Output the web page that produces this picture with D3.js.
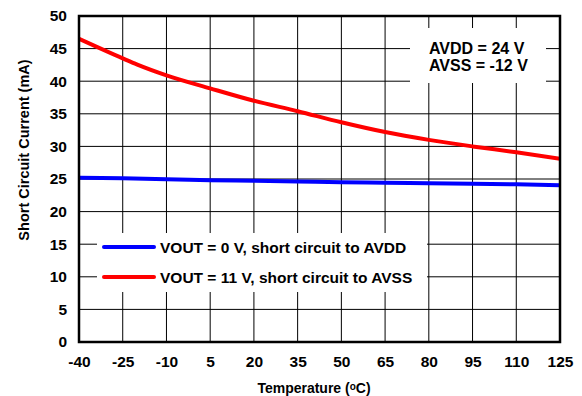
<!DOCTYPE html>
<html><head><meta charset="utf-8">
<script src="https://cdn.jsdelivr.net/npm/d3@7"></script>
<style>
html,body{margin:0;padding:0;background:#fff;}
svg text{font-family:"Liberation Sans",Arial,sans-serif;font-weight:bold;fill:#000;}
</style></head>
<body><svg id="c" width="582" height="396"></svg>
<script>
const xTicks = [-40,-25,-10,5,20,35,50,65,80,95,110,125];
const yTicks = [0,5,10,15,20,25,30,35,40,45,50];
const tempRed = [-40,-25,-20,-10,5,20,35,50,65,80,95,110,125];
const currentRed = [46.5,43.5,42.55,40.9,38.9,37.0,35.4,33.7,32.2,31.0,30.0,29.1,28.1];
const tempBlue = [-40,-25,-10,5,20,35,50,65,80,95,110,125];
const currentBlue = [25.2,25.1,24.97,24.82,24.72,24.62,24.52,24.42,24.35,24.28,24.18,24.05];
const seriesNames = ["VOUT = 0 V, short circuit to AVDD","VOUT = 11 V, short circuit to AVSS"];
const seriesColors = ["#0000ff","#ff0000"];
const noteLines = ["AVDD = 24 V","AVSS = -12 V"];

const L=79,R=560,T=16,B=342;
const svg=d3.select("#c");
const x=d3.scaleLinear().domain([-40,125]).range([L,R]);
const y=d3.scaleLinear().domain([0,50]).range([B,T]);

// grid
const g=svg.append("g");
g.selectAll("line.v").data(xTicks.slice(1,-1)).join("line")
 .attr("x1",d=>x(d)).attr("x2",d=>x(d)).attr("y1",T).attr("y2",B)
 .attr("stroke","#000").attr("stroke-width",1);
g.selectAll("line.h").data(yTicks.slice(1,-1)).join("line")
 .attr("x1",L).attr("x2",R).attr("y1",d=>y(d)).attr("y2",d=>y(d))
 .attr("stroke","#000").attr("stroke-width",1);

// white boxes for legend and note
svg.append("rect").attr("x",97).attr("y",233).attr("width",330).attr("height",59).attr("fill","#fff");
svg.append("rect").attr("x",410).attr("y",28).attr("width",136).attr("height",55).attr("fill","#fff");

const fmt=d=>String(d);
// axes labels
const xa=d3.axisBottom(x).tickValues(xTicks).tickFormat(fmt).tickSize(0).tickPadding(14);
svg.append("g").attr("transform",`translate(0,${B})`).call(xa)
 .call(s=>s.select(".domain").remove())
 .selectAll("text").attr("font-size",15.5).style("font-family","Liberation Sans, Arial, sans-serif").style("font-weight","bold");
const ya=d3.axisLeft(y).tickValues(yTicks).tickFormat(fmt).tickSize(0).tickPadding(12);
svg.append("g").attr("transform",`translate(${L},0)`).call(ya)
 .call(s=>s.select(".domain").remove())
 .selectAll("text").attr("font-size",15.5).style("font-family","Liberation Sans, Arial, sans-serif").style("font-weight","bold");

// lines
const line=d3.line().x(d=>x(d[0])).y(d=>y(d[1])).curve(d3.curveMonotoneX);
svg.append("clipPath").attr("id","cp").append("rect").attr("x",L).attr("y",T).attr("width",R-L).attr("height",B-T);
svg.append("path").datum(tempBlue.map((t,i)=>[t,currentBlue[i]])).attr("d",line)
 .attr("fill","none").attr("stroke",seriesColors[0]).attr("stroke-width",4).attr("clip-path","url(#cp)");
svg.append("path").datum(tempRed.map((t,i)=>[t,currentRed[i]])).attr("d",line)
 .attr("fill","none").attr("stroke",seriesColors[1]).attr("stroke-width",4).attr("clip-path","url(#cp)");

// frame
svg.append("rect").attr("x",L).attr("y",T).attr("width",R-L).attr("height",B-T)
 .attr("fill","none").attr("stroke","#000").attr("stroke-width",2.5);

// legend
const lg=svg.append("g");
seriesNames.forEach((n,i)=>{
  const yy=247+i*30;
  lg.append("line").attr("x1",104).attr("x2",154).attr("y1",yy).attr("y2",yy)
    .attr("stroke",seriesColors[i]).attr("stroke-width",4).attr("stroke-linecap","round");
  lg.append("text").attr("x",160).attr("y",yy+6).attr("font-size",15.5).text(n);
});

// note
noteLines.forEach((t,i)=>{
  svg.append("text").attr("x",429).attr("y",54+i*17).attr("font-size",16).text(t);
});

// axis titles
svg.append("text").attr("transform","translate(28.5,150) rotate(-90)").attr("text-anchor","middle")
 .attr("font-size",14.5).text("Short Circuit Current (mA)");
const xt=svg.append("text").attr("x",314).attr("y",393).attr("text-anchor","middle").attr("font-size",14);
xt.append("tspan").text("Temperature (");
xt.append("tspan").attr("font-size",10).attr("dy",-3).text("o");
xt.append("tspan").attr("dy",3).text("C)");
</script></body></html>
